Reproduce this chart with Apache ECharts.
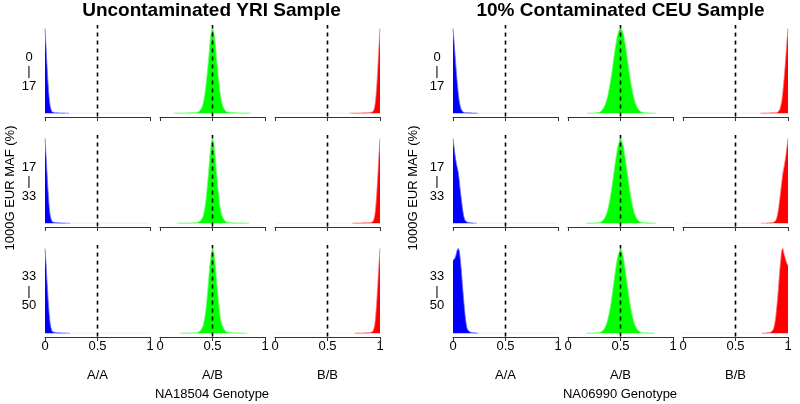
<!DOCTYPE html>
<html>
<head>
<meta charset="utf-8">
<script src="https://cdn.jsdelivr.net/npm/echarts@6/dist/echarts.min.js"></script>
<style>html,body{margin:0;padding:0;background:#fff}#c{width:800px;height:404px}</style>
</head>
<body>
<div id="c"></div>
<script>
// ---------- data ----------
const panelTitles = ['Uncontaminated YRI Sample', '10% Contaminated CEU Sample'];
const sampleLabels = ['NA18504 Genotype', 'NA06990 Genotype'];
const genotypes = ['A/A', 'A/B', 'B/B'];
const mafBins = ['0\n|\n17', '17\n|\n33', '33\n|\n50'];
const yTitle = '1000G EUR MAF (%)';
const threshold = 0.5;
const blueFaint = [0.24, 1];
const redFaint = [0, 0.73];

// YRI (uncontaminated)
const yriAA1 = [[0,1],[0.01,0.78],[0.02,0.55],[0.03,0.34],[0.04,0.18],[0.05,0.08],[0.06,0.035],[0.07,0.015],[0.1,0.006],[0.15,0.003],[0.23,0]];
const yriAA2 = [[0,1],[0.01,0.8],[0.02,0.58],[0.03,0.37],[0.04,0.2],[0.05,0.09],[0.06,0.04],[0.07,0.018],[0.1,0.007],[0.16,0.003],[0.24,0]];
const yriAA3 = [[0,1],[0.01,0.82],[0.02,0.6],[0.03,0.4],[0.04,0.23],[0.05,0.11],[0.06,0.05],[0.07,0.02],[0.1,0.008],[0.16,0.003],[0.24,0]];
const yriAB1 = [[0.13,0],[0.2,0.002],[0.3,0.005],[0.36,0.012],[0.38,0.03],[0.4,0.07],[0.41,0.11],[0.42,0.17],[0.43,0.25],[0.44,0.35],[0.45,0.47],[0.46,0.6],[0.47,0.74],[0.48,0.87],[0.49,0.96],[0.5,1],[0.51,0.97],[0.52,0.89],[0.53,0.76],[0.54,0.62],[0.55,0.49],[0.56,0.37],[0.57,0.27],[0.58,0.18],[0.59,0.12],[0.6,0.075],[0.62,0.032],[0.64,0.013],[0.7,0.005],[0.8,0.002],[0.87,0]];
const yriAB2 = [[0.16,0],[0.25,0.002],[0.33,0.005],[0.37,0.014],[0.39,0.035],[0.41,0.08],[0.42,0.13],[0.43,0.2],[0.44,0.3],[0.45,0.42],[0.46,0.56],[0.47,0.71],[0.48,0.85],[0.49,0.95],[0.5,1],[0.51,0.96],[0.52,0.86],[0.53,0.72],[0.54,0.57],[0.55,0.43],[0.56,0.31],[0.57,0.21],[0.58,0.14],[0.59,0.09],[0.61,0.04],[0.63,0.015],[0.67,0.005],[0.76,0.002],[0.85,0]];
const yriAB3 = [[0.19,0],[0.27,0.002],[0.34,0.006],[0.37,0.015],[0.39,0.037],[0.41,0.085],[0.42,0.14],[0.43,0.21],[0.44,0.31],[0.45,0.44],[0.46,0.58],[0.47,0.73],[0.48,0.86],[0.49,0.95],[0.5,1],[0.51,0.97],[0.52,0.88],[0.53,0.75],[0.54,0.6],[0.55,0.46],[0.56,0.34],[0.57,0.23],[0.58,0.15],[0.59,0.1],[0.61,0.045],[0.63,0.017],[0.67,0.006],[0.75,0.002],[0.83,0]];
const yriBB1 = [[0.71,0],[0.8,0.002],[0.87,0.004],[0.91,0.008],[0.93,0.016],[0.94,0.035],[0.95,0.08],[0.96,0.18],[0.97,0.34],[0.98,0.55],[0.99,0.78],[1,1]];
const yriBB2 = [[0.73,0],[0.81,0.002],[0.87,0.004],[0.91,0.008],[0.93,0.018],[0.94,0.04],[0.95,0.09],[0.96,0.2],[0.97,0.37],[0.98,0.58],[0.99,0.8],[1,1]];
const yriBB3 = [[0.75,0],[0.82,0.002],[0.88,0.004],[0.91,0.009],[0.93,0.02],[0.94,0.045],[0.95,0.1],[0.96,0.22],[0.97,0.39],[0.98,0.6],[0.99,0.81],[1,1]];

// CEU (10% contaminated)
const ceuAA1 = [[0,1],[0.01,0.85],[0.02,0.68],[0.03,0.52],[0.04,0.37],[0.05,0.24],[0.06,0.14],[0.07,0.08],[0.08,0.04],[0.1,0.012],[0.14,0.004],[0.2,0.002],[0.24,0]];
const ceuAA2 = [[0,1],[0.01,0.9],[0.02,0.8],[0.03,0.72],[0.04,0.66],[0.05,0.6],[0.06,0.5],[0.07,0.38],[0.08,0.28],[0.09,0.18],[0.1,0.1],[0.11,0.05],[0.12,0.025],[0.14,0.01],[0.18,0.003],[0.23,0]];
const ceuAA3 = [[0,0.86],[0.01,0.87],[0.02,0.89],[0.03,0.93],[0.04,0.98],[0.05,1],[0.06,0.97],[0.07,0.87],[0.08,0.73],[0.09,0.57],[0.1,0.42],[0.11,0.28],[0.12,0.16],[0.13,0.08],[0.14,0.04],[0.16,0.015],[0.2,0.004],[0.24,0]];
const ceuAB1 = [[0.18,0],[0.24,0.002],[0.28,0.005],[0.3,0.013],[0.32,0.03],[0.34,0.063],[0.36,0.12],[0.38,0.21],[0.4,0.34],[0.42,0.5],[0.44,0.68],[0.46,0.84],[0.48,0.96],[0.5,1],[0.52,0.96],[0.54,0.85],[0.56,0.69],[0.58,0.51],[0.6,0.35],[0.62,0.22],[0.64,0.125],[0.66,0.065],[0.68,0.031],[0.7,0.014],[0.74,0.004],[0.78,0.002],[0.84,0]];
const ceuAB2 = [[0.17,0],[0.24,0.002],[0.29,0.005],[0.31,0.012],[0.33,0.028],[0.35,0.06],[0.37,0.12],[0.39,0.22],[0.41,0.36],[0.43,0.53],[0.45,0.71],[0.47,0.87],[0.49,0.97],[0.5,1],[0.51,0.98],[0.53,0.88],[0.55,0.72],[0.57,0.54],[0.59,0.37],[0.61,0.23],[0.63,0.13],[0.65,0.065],[0.67,0.03],[0.69,0.013],[0.73,0.004],[0.78,0.002],[0.84,0]];
const ceuAB3 = [[0.17,0],[0.24,0.002],[0.29,0.005],[0.31,0.012],[0.33,0.028],[0.35,0.06],[0.37,0.12],[0.39,0.22],[0.41,0.36],[0.43,0.54],[0.45,0.72],[0.47,0.88],[0.49,0.97],[0.5,1],[0.51,0.98],[0.53,0.87],[0.55,0.7],[0.57,0.52],[0.59,0.35],[0.61,0.22],[0.63,0.12],[0.65,0.06],[0.67,0.028],[0.69,0.012],[0.73,0.004],[0.78,0.002],[0.83,0]];
const ceuBB1 = [[0.73,0],[0.8,0.002],[0.86,0.004],[0.9,0.012],[0.92,0.04],[0.93,0.08],[0.94,0.14],[0.95,0.24],[0.96,0.37],[0.97,0.52],[0.98,0.68],[0.99,0.85],[1,1]];
const ceuBB2 = [[0.74,0],[0.82,0.003],[0.86,0.01],[0.88,0.025],[0.89,0.05],[0.9,0.1],[0.91,0.17],[0.92,0.27],[0.93,0.37],[0.94,0.48],[0.95,0.58],[0.96,0.65],[0.97,0.72],[0.98,0.8],[0.99,0.9],[1,1]];
const ceuBB3 = [[0.75,0],[0.8,0.004],[0.84,0.015],[0.86,0.045],[0.87,0.09],[0.88,0.16],[0.89,0.27],[0.9,0.4],[0.91,0.55],[0.92,0.72],[0.93,0.85],[0.94,0.97],[0.95,1],[0.96,0.95],[0.97,0.9],[0.98,0.86],[0.99,0.82],[1,0.8]];

const densities = [
  [[yriAA1, yriAB1, yriBB1], [yriAA2, yriAB2, yriBB2], [yriAA3, yriAB3, yriBB3]],
  [[ceuAA1, ceuAB1, ceuBB1], [ceuAA2, ceuAB2, ceuBB2], [ceuAA3, ceuAB3, ceuBB3]]
];

// ---------- layout / style ----------
const FONT = '"Liberation Sans", Arial, Helvetica, sans-serif';
const colLeft = [[45, 160, 275], [453, 568, 683]];
const rowTop = [25, 135, 245];
const GW = 105, GH = 92;
const YMIN = -0.045, YMAX = 1.04;
const solid = ['#0000ff', '#00ff00', '#ff0000'];
const light = ['rgba(110,110,255,0.75)', 'rgba(110,255,110,0.85)', 'rgba(255,120,120,0.75)'];
const faint = ['#ececff', null, '#ffecec'];
const faintRange = [blueFaint, null, redFaint];

const grid = [], xAxis = [], yAxis = [], series = [];
let idx = 0;
for (let p = 0; p < 2; p++) {
  for (let r = 0; r < 3; r++) {
    for (let c = 0; c < 3; c++) {
      grid.push({left: colLeft[p][c], top: rowTop[r], width: GW, height: GH});
      xAxis.push({
        gridIndex: idx, type: 'value', min: 0, max: 1, interval: 0.5,
        axisLine: {show: true, onZero: false, lineStyle: {color: '#333', width: 1}},
        axisTick: {show: true, length: 4, lineStyle: {color: '#333', width: 1}},
        axisLabel: {show: r === 2, margin: 3, fontSize: 13, color: '#000', fontFamily: FONT},
        splitLine: {show: false}
      });
      yAxis.push({gridIndex: idx, type: 'value', min: YMIN, max: YMAX, show: false});
      if (faintRange[c]) {
        series.push({
          type: 'line', xAxisIndex: idx, yAxisIndex: idx, symbol: 'none', silent: true,
          data: faintRange[c].map(x => [x, 0]),
          lineStyle: {width: 1, color: faint[c]}, z: 1
        });
      }
      series.push({
        type: 'line', xAxisIndex: idx, yAxisIndex: idx, symbol: 'none', silent: true,
        smooth: 0.25, data: densities[p][r][c],
        lineStyle: {width: 1, color: light[c]},
        areaStyle: {color: solid[c], opacity: 1}, z: 2
      });
      series.push({
        type: 'line', xAxisIndex: idx, yAxisIndex: idx, symbol: 'none', silent: true,
        data: [[threshold, YMIN + 0.005], [threshold, YMAX]],
        lineStyle: {width: 1.6, color: '#000', type: [4, 4]}, z: 3
      });
      idx++;
    }
  }
}

const graphic = [];
const titleX = [211.5, 620.5];
const panelCenter = [212, 620];
const yTitleX = [10, 413];
const rowLabelX = [29, 437];
const rowCenter = [71.5, 181.5, 291];
for (let p = 0; p < 2; p++) {
  graphic.push({type: 'text', x: titleX[p], y: 11, style: {text: panelTitles[p], font: 'bold 19px ' + FONT, fill: '#000', textAlign: 'center', textVerticalAlign: 'middle'}});
  graphic.push({type: 'text', x: yTitleX[p], y: 188, rotation: Math.PI / 2, style: {text: yTitle, font: '13px ' + FONT, fill: '#000', textAlign: 'center', textVerticalAlign: 'middle'}});
  for (let r = 0; r < 3; r++) {
    graphic.push({type: 'text', x: rowLabelX[p], y: rowCenter[r], style: {text: mafBins[r], font: '13px ' + FONT, lineHeight: 14.5, fill: '#000', textAlign: 'center', textVerticalAlign: 'middle'}});
  }
  for (let c = 0; c < 3; c++) {
    graphic.push({type: 'text', x: colLeft[p][c] + GW / 2, y: 375, style: {text: genotypes[c], font: '13px ' + FONT, fill: '#000', textAlign: 'center', textVerticalAlign: 'middle'}});
  }
  graphic.push({type: 'text', x: panelCenter[p], y: 394, style: {text: sampleLabels[p], font: '13px ' + FONT, fill: '#000', textAlign: 'center', textVerticalAlign: 'middle'}});
}

const chart = echarts.init(document.getElementById('c'), null, {renderer: 'canvas'});
chart.setOption({
  animation: false,
  backgroundColor: '#fff',
  grid, xAxis, yAxis, series, graphic
});
</script>
</body>
</html>
